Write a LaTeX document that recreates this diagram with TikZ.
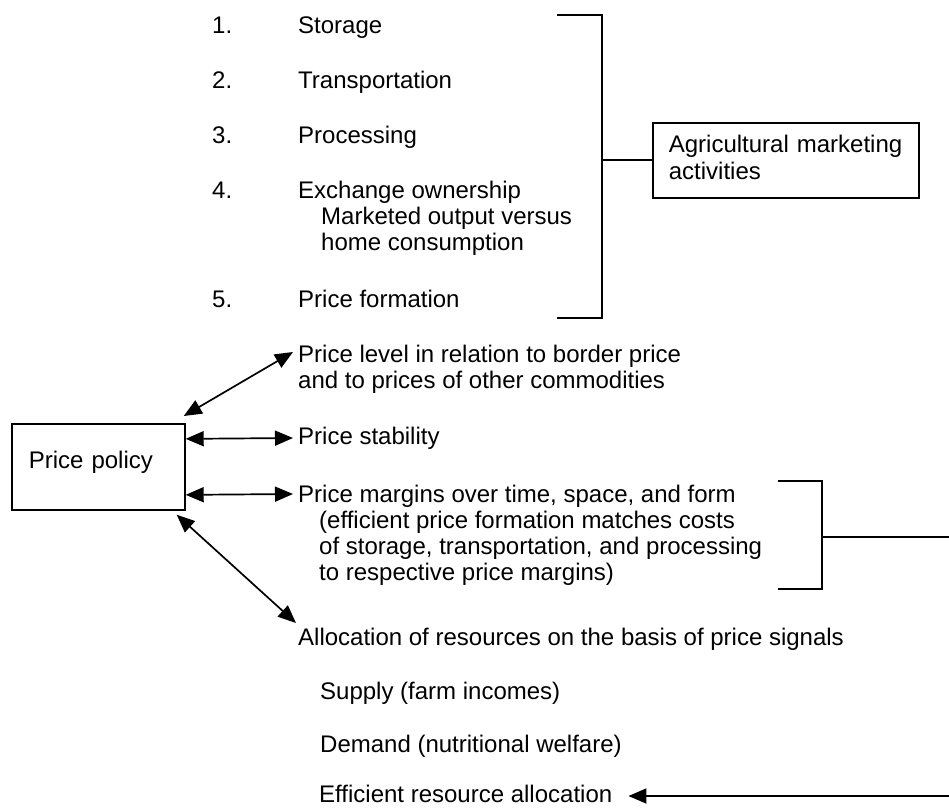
\documentclass[tikz,border=0pt]{standalone}
\usepackage{fontspec}
\setmainfont{Liberation Sans}
\usetikzlibrary{arrows.meta}
\begin{document}
\begin{tikzpicture}[x=1pt,y=-1pt,
  txt/.style={anchor=base west, inner sep=0pt, font=\fontsize{24}{25}\selectfont},
  boxed/.style={draw, line width=1.7pt, anchor=north west, inner ysep=0pt},
  ln/.style={line width=1.8pt},
  arr/.style={line width=1.7pt, -{Triangle[length=18pt,width=15pt]}},
  dbl/.style={line width=1.7pt, {Triangle[length=18pt,width=15pt]}-{Triangle[length=18pt,width=15pt]}}]
\useasboundingbox[fill=white] (0,0) rectangle (949,807);

% --- list of marketing activities ---
\node[txt] (n1) at (212,33) {1.};
\node[txt] (i1) at (298,33) {Storage};
\node[txt] (n2) at (212,88) {2.};
\node[txt] (i2) at (298,88) {Transportation};
\node[txt] (n3) at (212,143) {3.};
\node[txt] (i3) at (298,143) {Processing};
\node[txt] (n4) at (212,198) {4.};
\node[txt] (i4) at (298,198) {Exchange ownership};
\node[txt] (i4b) at (321,224) {Marketed output versus};
\node[txt] (i4c) at (321,250) {home consumption};
\node[txt] (n5) at (212,307) {5.};
\node[txt] (i5) at (298,307) {Price formation};

% bracket 1
\coordinate (b1t) at (557,15);
\coordinate (b1tr) at (602,15);
\coordinate (b1br) at (602,318);
\coordinate (b1b) at (557,318);
\coordinate (b1m) at (602,160);
\draw[ln] (b1t) -- (b1tr) -- (b1br) -- (b1b);

\node[boxed, minimum width=266pt, text width=234pt, inner xsep=16pt, align=left,
      text height=30pt, text depth=45pt,
      font=\fontsize{24}{27}\selectfont] (amk) at (652,122)
      {Agricultural marketing\\activities};
\draw[ln] (b1m) -- (amk.west -| b1m) -- (amk.west);

% --- price policy ---
\node[boxed, minimum width=173pt, text width=139pt, inner xsep=17pt, align=left,
      text height=45pt, text depth=41pt,
      font=\fontsize{24}{25}\selectfont] (pp) at (11,423) {Price policy};

\node[txt] (pl1) at (298,362) {Price level in relation to border price};
\node[txt] (pl2) at (298,388) {and to prices of other commodities};
\node[txt] (ps) at (298,444) {Price stability};
\node[txt] (pm1) at (298,502) {Price margins over time, space, and form};
\node[txt] (pm2) at (319,528) {(efficient price formation matches costs};
\node[txt] (pm3) at (319,554) {of storage, transportation, and processing};
\node[txt] (pm4) at (319,580) {to respective price margins)};
\node[txt] (al) at (298,645) {Allocation of resources on the basis of price signals};
\node[txt] (su) at (320,699) {Supply (farm incomes)};
\node[txt] (de) at (320,752) {Demand (nutritional welfare)};
\node[txt] (ef) at (319,802) {Efficient resource allocation};

\draw[dbl] ([shift={(-2pt,7pt)}]pp.north east) -- ([shift={(-5pt,10pt)}]pl1.base west);
\draw[dbl] ([yshift=28pt]pp.east) -- ([shift={(-5pt,6pt)}]ps.base west);
\draw[dbl] ([yshift=-28pt]pp.east) -- ([shift={(-5pt,8pt)}]pm1.base west);
\draw[dbl] ([shift={(-9pt,-4pt)}]pp.south east) -- ([shift={(-2pt,22pt)}]al.base west);

% bracket 2
\coordinate (b2t) at (778,481);
\coordinate (b2tr) at (822,481);
\coordinate (b2br) at (822,589);
\coordinate (b2b) at (778,589);
\coordinate (b2m) at (822,537);
\coordinate (re1) at (949,537);
\coordinate (re2) at (949,796);
\draw[ln] (b2t) -- (b2tr) -- (b2br) -- (b2b);
\draw[ln] (b2m) -- (re1);
\draw[arr] (re2) -- ([shift={(16pt,6pt)}]ef.base east);
\end{tikzpicture}
\end{document}
